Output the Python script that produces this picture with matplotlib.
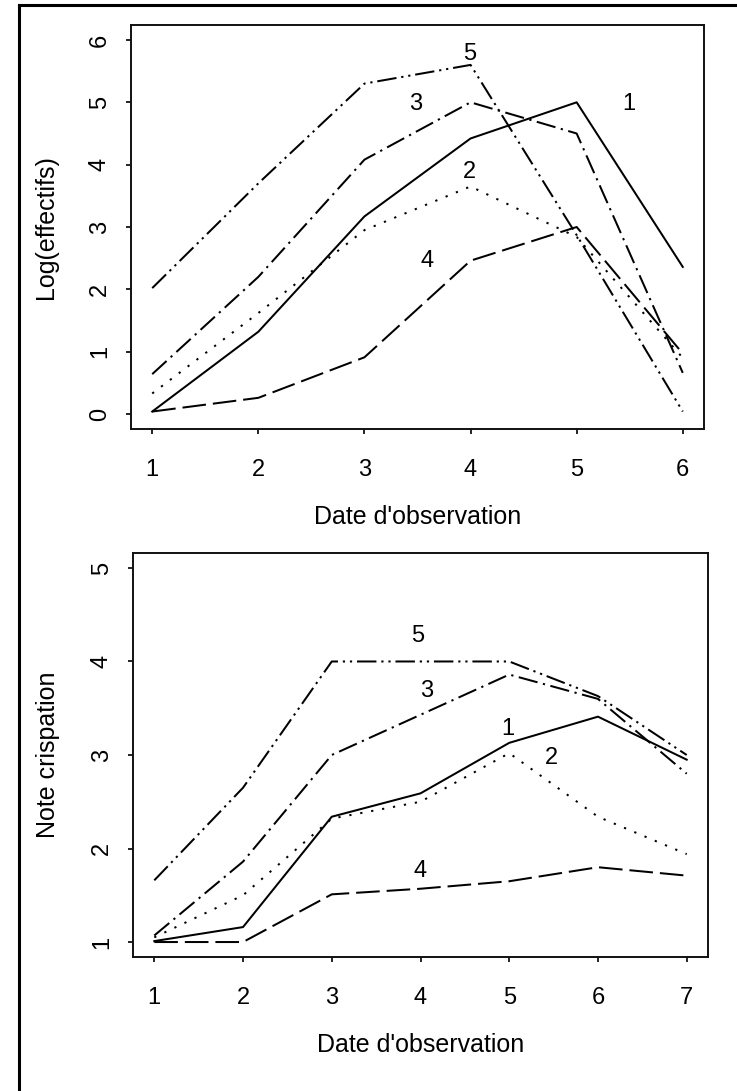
import matplotlib
matplotlib.use("Agg")
import matplotlib.pyplot as plt
from matplotlib.lines import Line2D

plt.rcParams['font.family'] = ['Liberation Sans', 'DejaVu Sans']
plt.rcParams['lines.scale_dashes'] = False

# ---------------- data ----------------
dates_top = [1, 2, 3, 4, 5, 6]
log_eff_1 = [0.04, 1.32, 3.17, 4.42, 5.00, 2.36]
log_eff_2 = [0.33, 1.62, 2.95, 3.65, 2.84, 0.90]
log_eff_3 = [0.64, 2.20, 4.08, 5.00, 4.50, 0.66]
log_eff_4 = [0.04, 0.26, 0.91, 2.46, 3.00, 0.97]
log_eff_5 = [2.02, 3.70, 5.30, 5.60, 2.87, 0.04]

dates_bot = [1, 2, 3, 4, 5, 6, 7]
crisp_1 = [1.01, 1.16, 2.34, 2.59, 3.13, 3.41, 2.95]
crisp_2 = [1.05, 1.50, 2.32, 2.50, 3.02, 2.34, 1.94]
crisp_3 = [1.07, 1.86, 3.00, 3.43, 3.86, 3.60, 2.80]
crisp_4 = [1.00, 1.00, 1.51, 1.57, 1.65, 1.80, 1.71]
crisp_5 = [1.66, 2.65, 4.00, 4.00, 4.00, 3.63, 3.00]

series_names = ['1', '2', '3', '4', '5']
labels_top_x = [5.49, 3.99, 3.48, 3.59, 3.99]
labels_top_y = [4.97, 3.88, 4.97, 2.46, 5.78]
labels_bot_x = [4.98, 5.48, 4.07, 3.99, 3.97]
labels_bot_y = [3.28, 2.97, 3.68, 1.76, 4.27]

yticks_top = [0, 1, 2, 3, 4, 5, 6]
yticks_bot = [1, 2, 3, 4, 5]

# ---------------- styles ----------------
styles = [
    '-',
    (0, (1.6, 6.4)),
    (0, (14, 4, 1.6, 4)),
    (0, (17, 5)),
    (0, (14, 3.5, 1.6, 3.5, 1.6, 3.5)),
]
LW = 1.45
FS = 17
FS_LAB = 18

W, H = 737, 1091
fig = plt.figure(figsize=(W / 100, H / 100), dpi=100)
fig.patch.set_facecolor('white')

ax1 = fig.add_axes([131 / W, 1 - 429 / H, (704 - 131) / W, (429 - 25) / H])
ax2 = fig.add_axes([133 / W, 1 - 957 / H, (708 - 133) / W, (957 - 553) / H])


def style_axes(ax, xticks, yticks, xlabel, ylabel):
    ax.set_xticks(xticks)
    ax.set_yticks(yticks)
    ax.set_xticklabels([str(t) for t in xticks], fontsize=FS)
    ax.set_yticklabels([str(t) for t in yticks], fontsize=FS, rotation=90,
                       va='center')
    ax.tick_params(axis='both', direction='out', length=3.4, width=1.2,
                   color='black')
    ax.tick_params(axis='x', pad=18)
    ax.tick_params(axis='y', pad=11)
    for s in ax.spines.values():
        s.set_linewidth(1.4)
        s.set_color('#111111')
    ax.text(0.5, -0.218, xlabel, transform=ax.transAxes, ha='center',
            va='center', fontsize=FS_LAB)
    ax.text(-0.148, 0.5, ylabel, transform=ax.transAxes, ha='center',
            va='center', rotation=90, fontsize=FS_LAB)


# top panel
for ys, st in zip([log_eff_1, log_eff_2, log_eff_3, log_eff_4, log_eff_5], styles):
    ax1.plot(dates_top, ys, color='black', lw=LW, linestyle=st)
for n, lx, ly in zip(series_names, labels_top_x, labels_top_y):
    ax1.text(lx, ly, n, ha='center', va='center', fontsize=FS)
ax1.set_xlim(0.8, 6.2)
ax1.set_ylim(-0.24, 6.24)
style_axes(ax1, dates_top, yticks_top, "Date d'observation", "Log(effectifs)")

# bottom panel
for ys, st in zip([crisp_1, crisp_2, crisp_3, crisp_4, crisp_5], styles):
    ax2.plot(dates_bot, ys, color='black', lw=LW, linestyle=st)
for n, lx, ly in zip(series_names, labels_bot_x, labels_bot_y):
    ax2.text(lx, ly, n, ha='center', va='center', fontsize=FS)
ax2.set_xlim(0.76, 7.24)
ax2.set_ylim(0.84, 5.16)
style_axes(ax2, dates_bot, yticks_bot, "Date d'observation", "Note crispation")

# outer frame (left and top edges)
fig.add_artist(Line2D([19 / W, 19 / W], [0, 1 - 5 / H], transform=fig.transFigure,
                      color='black', lw=2.2))
fig.add_artist(Line2D([19 / W, 1.0], [1 - 5 / H, 1 - 5 / H], transform=fig.transFigure,
                      color='black', lw=2.2))

fig.savefig('out.png', dpi=100, facecolor='white')
